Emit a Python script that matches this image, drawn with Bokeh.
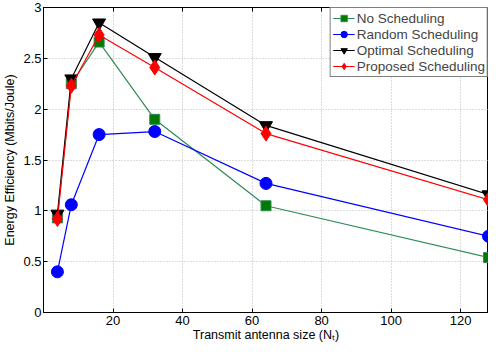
from bokeh.plotting import figure
from bokeh.models import FixedTicker, LinearAxis, Legend, LegendItem, Range1d
from bokeh.embed import file_html
from bokeh.resources import INLINE

# ---- data ----
antennas = [4, 8, 16, 32, 64, 128]
no_sched = [0.93, 2.25, 2.66, 1.90, 1.05, 0.54]
random_sched = [0.40, 1.06, 1.75, 1.78, 1.27, 0.75]
optimal_sched = [0.97, 2.30, 2.85, 2.51, 1.84, 1.16]
proposed_sched = [0.92, 2.23, 2.73, 2.41, 1.76, 1.11]
series_names = ["No Scheduling", "Random Scheduling", "Optimal Scheduling", "Proposed Scheduling"]
x_ticks = [20, 40, 60, 80, 100, 120]
y_ticks = [0, 0.5, 1, 1.5, 2, 2.5, 3]
y_tick_labels = ["0", "0.5", "1", "1.5", "2", "2.5", "3"]
x_label = "Transmit antenna size (N\u209c)"
y_label = "Energy Efficiency (Mbits/Joule)"

FONT = "Liberation Sans"

p = figure(width=488, height=344, output_backend="svg", toolbar_location=None,
           x_range=Range1d(0, 128), y_range=Range1d(0, 3),
           min_border_left=30, min_border_right=0, min_border_top=7, min_border_bottom=30)
p.outline_line_color = "black"
p.outline_line_width = 1
p.background_fill_color = "white"

for ax, ticks in ((p.xaxis[0], x_ticks), (p.yaxis[0], y_ticks)):
    ax.ticker = FixedTicker(ticks=ticks)
    ax.major_tick_in = 4
    ax.major_tick_out = 0
    ax.minor_tick_line_color = None
    ax.axis_line_color = "black"
    ax.major_label_text_font = FONT
    ax.major_label_text_font_size = "13px"
    ax.major_label_text_color = "black"
    ax.axis_label_text_font = FONT
    ax.axis_label_text_font_size = "12.5px"
    ax.axis_label_text_font_style = "normal"
    ax.axis_label_text_color = "black"

p.yaxis[0].major_label_overrides = {t: l for t, l in zip(y_ticks, y_tick_labels)}
p.yaxis[0].axis_label = y_label
p.yaxis[0].major_label_standoff = 2
p.yaxis[0].axis_label_standoff = 3
p.xaxis[0].axis_label = x_label
p.xaxis[0].major_label_standoff = 3
p.xaxis[0].axis_label_standoff = 0

top = LinearAxis(ticker=FixedTicker(ticks=x_ticks), major_tick_in=4, major_tick_out=0,
                 minor_tick_line_color=None, major_label_text_alpha=0,
                 major_label_text_font_size="1px",
                 major_label_standoff=0, axis_line_color="black")
p.add_layout(top, "above")

p.xgrid.ticker = FixedTicker(ticks=x_ticks)
p.ygrid.ticker = FixedTicker(ticks=y_ticks)
for g in (p.xgrid, p.ygrid):
    g.grid_line_color = "#b8b8b8"
    g.grid_line_dash = "1 2"
    g.grid_line_width = 1

styles = [
    (no_sched, "#2e8b57", "square", 10, "#007a00", "#2e8b57"),
    (random_sched, "#0000ff", "circle", 12, "#0000ff", "#0000ff"),
    (optimal_sched, "#000000", "inverted_triangle", 13, "#000000", "#000000"),
    (proposed_sched, "#ff0000", "diamond", 15, "#ff0000", "#ff0000"),
]
items = []
for name, (ys, lc, marker, size, fc, mlc) in zip(series_names, styles):
    r1 = p.line(antennas, ys, line_color=lc, line_width=1.2)
    r2 = p.scatter(antennas, ys, marker=marker, size=size, fill_color=fc, line_color=mlc)
    items.append(LegendItem(label=name, renderers=[r1, r2]))

legend = Legend(items=items, location="top_right")
legend.label_text_font = FONT
legend.label_text_font_size = "13.5px"
legend.label_height = 16
legend.glyph_height = 16
legend.glyph_width = 22
legend.spacing = 0
legend.padding = 2
legend.margin = 0
legend.label_standoff = 2
legend.border_line_color = "black"
legend.border_line_width = 1
legend.background_fill_alpha = 1
p.add_layout(legend, "center")

open("out.html", "w").write(file_html(p, INLINE))
